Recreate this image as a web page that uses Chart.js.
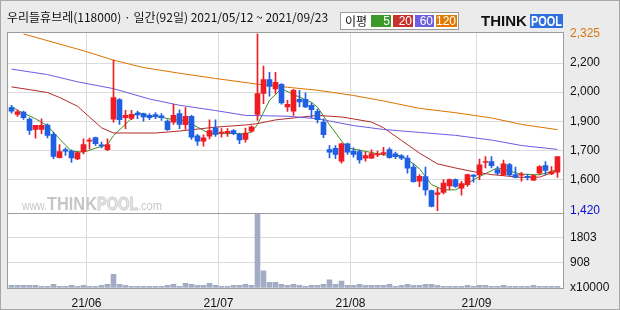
<!DOCTYPE html>
<html>
<head>
<meta charset="utf-8">
<style>
html, body { margin: 0; padding: 0; background: #ebebeb; }
#wrap { width: 620px; height: 310px; position: relative; }
</style>
</head>
<body>
<div id="wrap"><canvas id="chart"></canvas></div>
<script src="https://cdn.jsdelivr.net/npm/chart.js@4.4.0/dist/chart.umd.min.js"></script>
<script>
'use strict';

let titleText = '우리들휴브레(118000) · 일간(92일) 2021/05/12 ~ 2021/09/23';

let openPrices = [1948, 1913, 1925, 1889, 1836, 1836, 1859, 1811, 1692, 1733,
    1725, 1685, 1723, 1776, 1795, 1757, 1733, 1889, 1989, 1896,
    1893, 1920, 1917, 1908, 1912, 1906, 1879, 1874, 1917, 1860,
    1903, 1804, 1776, 1802, 1845, 1817, 1819, 1831, 1811, 1785,
    1828, 1913, 2020, 2091, 2044, 2067, 1951, 1930, 1990, 1990,
    1960, 1929, 1874, 1733, 1740, 1674, 1763, 1725, 1723, 1689,
    1689, 1706, 1711, 1733, 1711, 1701, 1690, 1643, 1571, 1595,
    1523, 1504, 1514, 1547, 1579, 1536, 1554, 1603, 1603, 1667,
    1672, 1631, 1605, 1656, 1605, 1602, 1596, 1576, 1612, 1651,
    1608, 1617];
let highPrices = [1960, 1937, 1930, 1896, 1857, 1891, 1865, 1823, 1759, 1742,
    1732, 1721, 1788, 1792, 1797, 1771, 1788, 2191, 1994, 1934,
    1934, 1930, 1920, 1917, 1922, 1917, 1886, 1965, 1937, 1948,
    1908, 1811, 1809, 1886, 1886, 1840, 1840, 1836, 1817, 1843,
    1855, 2325, 2160, 2129, 2129, 2071, 1985, 2042, 2037, 2023,
    1972, 1941, 1891, 1754, 1754, 1766, 1766, 1742, 1732, 1720,
    1732, 1725, 1745, 1742, 1720, 1708, 1703, 1660, 1605, 1643,
    1526, 1536, 1579, 1583, 1583, 1571, 1608, 1605, 1684, 1697,
    1697, 1646, 1680, 1663, 1643, 1617, 1608, 1605, 1651, 1672,
    1646, 1697];
let lowPrices = [1920, 1903, 1888, 1811, 1792, 1814, 1793, 1686, 1690, 1703,
    1668, 1682, 1711, 1737, 1754, 1742, 1728, 1874, 1862, 1840,
    1886, 1891, 1879, 1886, 1891, 1883, 1831, 1862, 1840, 1836,
    1785, 1754, 1751, 1788, 1800, 1797, 1800, 1809, 1763, 1771,
    1823, 1883, 1968, 2006, 2020, 1965, 1928, 1908, 1951, 1948,
    1896, 1869, 1794, 1691, 1686, 1663, 1708, 1694, 1663, 1674,
    1686, 1697, 1703, 1689, 1686, 1682, 1612, 1566, 1543, 1500,
    1440, 1420, 1506, 1526, 1540, 1500, 1545, 1566, 1579, 1639,
    1639, 1605, 1600, 1596, 1588, 1571, 1578, 1574, 1605, 1605,
    1605, 1591];
let closePrices = [1930, 1927, 1896, 1831, 1857, 1857, 1805, 1698, 1723, 1725,
    1691, 1718, 1759, 1780, 1763, 1752, 1759, 1999, 1886, 1908,
    1913, 1910, 1900, 1896, 1903, 1896, 1835, 1908, 1862, 1903,
    1797, 1776, 1793, 1831, 1811, 1823, 1826, 1814, 1783, 1817,
    1850, 2020, 2091, 2057, 2078, 1972, 1965, 2037, 1977, 1951,
    1937, 1886, 1809, 1720, 1708, 1763, 1720, 1708, 1680, 1703,
    1713, 1711, 1718, 1692, 1697, 1689, 1638, 1569, 1596, 1526,
    1442, 1512, 1562, 1579, 1545, 1559, 1605, 1596, 1655, 1672,
    1651, 1612, 1660, 1603, 1591, 1608, 1591, 1600, 1646, 1626,
    1619, 1697];
// volume in units of 10000 shares
let volumes = [95, 95, 95, 95, 95, 60, 60, 130, 60, 60,
    95, 60, 95, 60, 60, 95, 130, 490, 130, 95,
    60, 60, 60, 60, 60, 60, 95, 130, 60, 170,
    130, 95, 95, 170, 95, 60, 60, 95, 95, 130,
    95, 2640, 610, 205, 205, 130, 95, 130, 95, 60,
    95, 95, 130, 290, 130, 250, 95, 95, 130, 95,
    95, 95, 95, 130, 60, 95, 130, 95, 95, 130,
    130, 95, 60, 60, 60, 60, 95, 60, 95, 95,
    60, 60, 95, 60, 60, 60, 60, 95, 60, 60,
    60, 60];

// moving averages: [day index, value]
let ma5 = [[0, 1955], [1, 1934], [4, 1891], [6, 1855], [8, 1788], [10, 1725], [12, 1720],
    [14, 1740], [16, 1758], [17, 1805], [19, 1863], [21, 1924], [23, 1905], [25, 1898],
    [27, 1886], [29, 1882], [31, 1848], [33, 1815], [37, 1815], [39, 1814], [40, 1822],
    [41, 1862], [43, 1985], [45, 2045], [47, 2015], [50, 1975], [51, 1950], [53, 1860],
    [55, 1778], [56, 1742], [62, 1706], [65, 1702], [67, 1660], [68, 1635], [70, 1554],
    [72, 1527], [74, 1527], [76, 1560], [78, 1595], [81, 1640], [84, 1615], [85, 1607],
    [88, 1604], [89, 1612], [91, 1632]];
let ma20 = [[0, 2054], [3, 2040], [6, 2025], [8, 2000], [11, 1955], [13, 1900], [15, 1845],
    [17, 1818], [24, 1818], [28, 1828], [34, 1848], [39, 1859], [41, 1866], [44, 1885],
    [47, 1895], [51, 1908], [55, 1900], [57, 1890], [60, 1874], [62, 1845], [65, 1780],
    [68, 1715], [71, 1660], [74, 1639], [77, 1620], [80, 1605], [85, 1591], [88, 1592],
    [91, 1625]];
let ma60 = [[0, 2145], [6, 2117], [11, 2080], [17, 2045], [23, 1992], [28, 1960], [34, 1933],
    [39, 1908], [46, 1904], [51, 1891], [57, 1856], [62, 1836], [68, 1821], [74, 1806],
    [80, 1782], [85, 1754], [91, 1734]];
let ma120 = [[2, 2325], [12, 2239], [17, 2191], [22, 2153], [28, 2124], [34, 2097], [41, 2068],
    [46, 2052], [51, 2037], [57, 2010], [62, 1982], [68, 1944], [74, 1922], [80, 1895],
    [85, 1862], [91, 1835]];

let monthLabels = ['21/06', '21/07', '21/08', '21/09'];
let monthFirstDay = [13, 35, 57, 78];
let priceTicks = [1420, 1580, 1729, 1878, 2027, 2176, 2325];
let priceTickLabels = ['1,420', '1,600', '1,700', '1,900', '2,000', '2,200', '2,325'];
let volumeTicks = [0, 908, 1803];
let volumeTickLabels = ['x10000', '908', '1803'];
let maNames = ['5', '20', '60', '120'];

let upColor = '#f01c24';
let downColor = '#1f5fe4';
let maColors = ['#3c9022', '#b42a2a', '#6a5ce4', '#dc7400'];
let legendColors = ['#3c9a28', '#c8302c', '#6a60e0', '#e07a00'];

let candleColors = [];
let wickData = [];
let bodyData = [];
let volumeData = [];
for (let i = 0; i < closePrices.length; i++) {
    candleColors.push(closePrices[i] >= openPrices[i] ? upColor : downColor);
    wickData.push({ x: i, y: [lowPrices[i], highPrices[i]] });
    bodyData.push({ x: i, y: [openPrices[i], closePrices[i]] });
    volumeData.push({ x: i, y: volumes[i] });
}

function toPoints(list) {
    return list.map(p => ({ x: p[0], y: p[1] }));
}

function maLine(list, color) {
    return {
        type: 'line',
        data: toPoints(list),
        borderColor: color,
        borderWidth: 1,
        pointRadius: 0,
        tension: 0,
        yAxisID: 'y',
        order: 3
    };
}

let chrome = {
    id: 'chrome',
    beforeDraw(chart) {
        let ctx = chart.ctx;
        let a = chart.chartArea;
        ctx.save();
        ctx.fillStyle = '#ebebeb';
        ctx.fillRect(0, 0, chart.width, chart.height);
        ctx.fillStyle = '#ffffff';
        ctx.fillRect(a.left, a.top, a.right - a.left, a.bottom - a.top);

        // watermark
        let yb = chart.scales.y.bottom - 3;
        ctx.textBaseline = 'alphabetic';
        ctx.fillStyle = '#c8c8c8';
        ctx.font = '12px "Liberation Sans"';
        ctx.fillText('www.', 22, yb, 25);
        ctx.font = 'bold 18px "Liberation Sans"';
        ctx.fillStyle = '#c6c6c6';
        ctx.fillText('THINK', 47, yb, 50);
        ctx.fillStyle = '#e6e6e6';
        ctx.strokeStyle = '#cfcfcf';
        ctx.lineWidth = 1;
        ctx.fillText('POOL', 97, yb, 41);
        ctx.strokeText('POOL', 97, yb, 41);
        ctx.font = '12px "Liberation Sans"';
        ctx.fillStyle = '#c8c8c8';
        ctx.fillText('.com', 138, yb, 24);
        ctx.restore();
    },
    afterDraw(chart) {
        let ctx = chart.ctx;
        let a = chart.chartArea;
        let yv = chart.scales.yv;
        ctx.save();
        ctx.strokeStyle = '#9c9c9c';
        ctx.lineWidth = 1;
        ctx.strokeRect(a.left + 0.5, a.top + 0.5, a.right - a.left, a.bottom - a.top);
        ctx.beginPath();
        ctx.moveTo(a.left, Math.round(yv.top) + 0.5);
        ctx.lineTo(a.right, Math.round(yv.top) + 0.5);
        ctx.stroke();
        ctx.strokeStyle = '#a8a8a8';
        ctx.strokeRect(0.5, 0.5, chart.width - 1, chart.height - 1);

        // title
        ctx.fillStyle = '#111111';
        ctx.textBaseline = 'middle';
        ctx.font = '12px "Noto Sans CJK KR"';
        ctx.fillText(titleText, 7, 17);

        // legend box
        ctx.fillStyle = '#ffffff';
        ctx.fillRect(340, 12, 119, 18);
        ctx.strokeStyle = '#9c9c9c';
        ctx.strokeRect(340.5, 12.5, 118, 17);
        ctx.fillStyle = '#111111';
        ctx.font = '12px "Noto Sans CJK KR"';
        ctx.fillText('이평', 345, 21);
        let boxX = [371, 393, 415, 436];
        let boxW = [20, 20, 19, 21];
        ctx.font = '12px "Liberation Sans"';
        ctx.textAlign = 'right';
        for (let i = 0; i < maNames.length; i++) {
            ctx.fillStyle = legendColors[i];
            ctx.fillRect(boxX[i], 15, boxW[i], 12);
            ctx.fillStyle = '#ffffff';
            ctx.fillText(maNames[i], boxX[i] + boxW[i] - 1, 21.5);
        }

        // logo
        ctx.textAlign = 'left';
        ctx.fillStyle = '#111111';
        ctx.font = 'bold 15px "Liberation Sans"';
        ctx.fillText('THINK', 481, 22, 48);
        let lx = 530;
        ctx.fillStyle = '#2f6ee0';
        ctx.fillRect(lx, 14, 563 - lx, 14);
        ctx.fillStyle = '#ffffff';
        ctx.font = 'bold 14px "Liberation Sans"';
        ctx.fillText('POOL', lx + 1, 22, 31);
        ctx.restore();
    }
};

let ctx = document.getElementById('chart').getContext('2d');
let myChart = new Chart(ctx, {
    type: 'bar',
    data: {
        datasets: [{
            data: bodyData,
            backgroundColor: candleColors,
            barThickness: 5,
            minBarLength: 1,
            grouped: false,
            yAxisID: 'y',
            order: 1
        }, {
            data: wickData,
            backgroundColor: candleColors,
            barThickness: 1,
            grouped: false,
            yAxisID: 'y',
            order: 2
        },
        maLine(ma120, maColors[3]),
        maLine(ma60, maColors[2]),
        maLine(ma20, maColors[1]),
        maLine(ma5, maColors[0]),
        {
            data: volumeData,
            backgroundColor: '#a2acc4',
            barThickness: 5,
            grouped: false,
            yAxisID: 'yv',
            order: 4
        }]
    },
    options: {
        responsive: true,
        maintainAspectRatio: false,
        animation: false,
        layout: { padding: { left: 7, top: 32, right: 0, bottom: 0 } },
        plugins: { legend: { display: false }, tooltip: { enabled: false } },
        scales: {
            x: {
                type: 'linear',
                min: -0.75,
                max: 91.92,
                offset: false,
                border: { display: false },
                grid: { color: '#dadada', drawTicks: false, offset: false },
                afterBuildTicks: (scale) => {
                    scale.ticks = monthFirstDay.map(d => ({ value: d - 0.5 }));
                },
                afterFit: (scale) => { scale.height = 22; },
                ticks: {
                    autoSkip: false,
                    maxRotation: 0,
                    padding: 8,
                    color: '#111111',
                    font: { family: 'Liberation Sans', size: 12 },
                    callback: (value, index) => monthLabels[index]
                }
            },
            y: {
                type: 'linear',
                position: 'right',
                stack: 'panes',
                stackWeight: 2.4,
                min: 1410,
                max: 2335,
                border: { display: false },
                grid: {
                    drawTicks: false,
                    color: (c) => (c.index === 0 || c.index === priceTicks.length - 1) ? 'rgba(0,0,0,0)' : '#dadada'
                },
                afterBuildTicks: (scale) => {
                    scale.ticks = priceTicks.map(v => ({ value: v }));
                },
                afterFit: (scale) => { scale.width = 57; },
                ticks: {
                    autoSkip: false,
                    padding: 7,
                    font: { family: 'Liberation Sans', size: 12 },
                    color: (c) => c.index === 0 ? '#0a0ad0' : (c.index === priceTicks.length - 1 ? '#d87410' : '#111111'),
                    callback: (value, index) => priceTickLabels[index]
                }
            },
            yv: {
                type: 'linear',
                position: 'right',
                stack: 'panes',
                stackWeight: 1,
                min: 0,
                max: 2680,
                border: { display: false },
                grid: {
                    drawTicks: false,
                    color: (c) => c.index === 0 ? 'rgba(0,0,0,0)' : '#dadada'
                },
                afterBuildTicks: (scale) => {
                    scale.ticks = volumeTicks.map(v => ({ value: v }));
                },
                afterFit: (scale) => { scale.width = 57; },
                ticks: {
                    autoSkip: false,
                    padding: 7,
                    color: '#111111',
                    font: { family: 'Liberation Sans', size: 12 },
                    callback: (value, index) => volumeTickLabels[index]
                }
            }
        }
    },
    plugins: [chrome]
});
</script>
</body>
</html>
